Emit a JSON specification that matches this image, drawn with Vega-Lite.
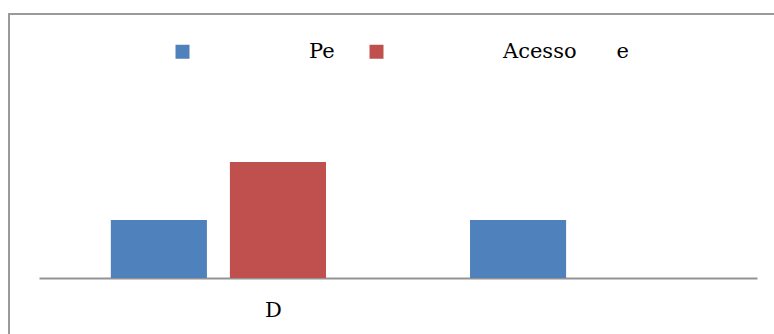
{
  "$schema": "https://vega.github.io/schema/vega-lite/v6.json",
  "width": 765,
  "height": 320,
  "autosize": "none",
  "padding": {"left": 9, "top": 14, "right": 0, "bottom": 0},
  "background": "white",
  "config": {
    "view": {"stroke": "#9a9a9a", "strokeWidth": 2, "strokeDash": [765, 1085, 320]},
    "font": "DejaVu Serif"
  },
  "data": {
    "values": [
      {"categoria": "D", "serie": "Pe", "valor": 1},
      {"categoria": "D", "serie": "Acesso\u00a0\u00a0\u00a0\u00a0\u00a0\u00a0e", "valor": 2},
      {"categoria": " ", "serie": "Pe", "valor": 1}
    ]
  },
  "mark": {"type": "bar"},
  "encoding": {
    "x": {
      "field": "categoria",
      "type": "nominal",
      "sort": null,
      "scale": {"range": [30, 748], "paddingInner": 0.401, "paddingOuter": 0.2},
      "axis": {
        "title": null,
        "orient": "bottom",
        "offset": -56,
        "ticks": false,
        "grid": false,
        "domainColor": "#939393",
        "domainWidth": 2,
        "labelAngle": 0,
        "labelFont": "DejaVu Serif",
        "labelFontSize": 21,
        "labelColor": "black",
        "labelBaseline": "top",
        "labelPadding": 21,
        "labelOffset": 55
      }
    },
    "xOffset": {
      "field": "serie",
      "type": "nominal",
      "scale": {
        "domain": ["Pe", "Acesso\u00a0\u00a0\u00a0\u00a0\u00a0\u00a0e"],
        "paddingInner": 0.193,
        "paddingOuter": 0
      }
    },
    "y": {
      "field": "valor",
      "type": "quantitative",
      "scale": {"domain": [0, 2], "range": [264, 148], "nice": false},
      "axis": null
    },
    "color": {
      "field": "serie",
      "type": "nominal",
      "scale": {
        "domain": ["Pe", "Acesso\u00a0\u00a0\u00a0\u00a0\u00a0\u00a0e"],
        "range": ["#4F81BD", "#C0504D"]
      },
      "legend": {
        "orient": "none",
        "legendX": 163,
        "legendY": 27,
        "direction": "horizontal",
        "title": null,
        "padding": 0,
        "symbolType": "square",
        "symbolSize": 196,
        "symbolStrokeWidth": 0,
        "symbolOpacity": 1,
        "labelOffset": 116,
        "labelFont": "DejaVu Serif",
        "labelFontSize": 21,
        "labelColor": "black",
        "labelLimit": 400,
        "columnPadding": 31
      }
    }
  }
}
